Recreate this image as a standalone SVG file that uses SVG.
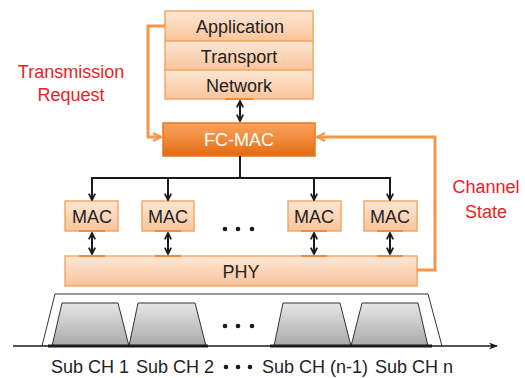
<svg xmlns="http://www.w3.org/2000/svg" width="525" height="378" viewBox="0 0 525 378">
  <defs>
    <linearGradient id="peach" x1="0" y1="0" x2="0" y2="1">
      <stop offset="0" stop-color="#fde7d6"/>
      <stop offset="1" stop-color="#f9c49a"/>
    </linearGradient>
    <linearGradient id="fcmac" x1="0" y1="0" x2="0" y2="1">
      <stop offset="0" stop-color="#f9a35e"/>
      <stop offset="0.5" stop-color="#f08a3a"/>
      <stop offset="1" stop-color="#e06a12"/>
    </linearGradient>
    <linearGradient id="band" x1="0" y1="0" x2="0" y2="1">
      <stop offset="0" stop-color="#e6e6e6"/>
      <stop offset="1" stop-color="#a9a9a9"/>
    </linearGradient>
    <marker id="ahk" viewBox="0 0 10 10" refX="9" refY="5" markerWidth="8" markerHeight="8" orient="auto-start-reverse" markerUnits="userSpaceOnUse">
      <path d="M1,1 L9,5 L1,9" fill="none" stroke="#1a1a1a" stroke-width="2.2"/>
    </marker>
    <marker id="aho" viewBox="0 0 10 10" refX="9" refY="5" markerWidth="10" markerHeight="10" orient="auto" markerUnits="userSpaceOnUse">
      <path d="M1,1 L9,5 L1,9" fill="none" stroke="#f79646" stroke-width="2.2"/>
    </marker>
    <marker id="axis" viewBox="0 0 10 10" refX="9" refY="5" markerWidth="9" markerHeight="9" orient="auto" markerUnits="userSpaceOnUse">
      <path d="M0,1 L10,5 L0,9 L3,5 Z" fill="#1a1a1a"/>
    </marker>
  </defs>
  <style>
    text { font-family: "Liberation Sans", Arial, sans-serif; text-anchor: middle; dominant-baseline: central; }
    .box { fill: url(#peach); stroke: #f5a865; stroke-width: 1.5; }
    .lbl { fill: #222222; font-size: 18px; }
    .red { fill: #ee1c25; font-size: 18px; }
    .wire { fill: none; stroke: #1a1a1a; stroke-width: 2; }
    .fb { fill: none; stroke: #f79646; stroke-width: 3; }
    .tick { stroke: #f28a36; stroke-width: 2; }
    .dot { fill: #1a1a1a; }
    .sub { fill: url(#band); stroke: #333; stroke-width: 1; }
  </style>

  <!-- protocol stack -->
  <g id="application"><rect class="box" x="165" y="11" width="148" height="30"/><text class="lbl" x="240" y="27" font-size="19">Application</text></g>
  <g id="transport"><rect class="box" x="165" y="41" width="148" height="29"/><text class="lbl" x="239" y="57" font-size="19">Transport</text></g>
  <g id="network"><rect class="box" x="165" y="70" width="148" height="29"/><text class="lbl" x="239" y="86" font-size="19">Network</text></g>

  <g id="fc-mac">
    <rect x="163" y="123" width="152" height="33" fill="url(#fcmac)" stroke="#e8761e" stroke-width="1.5"/>
    <text x="239" y="140" font-size="18" fill="#ffffff">FC-MAC</text>
  </g>

  <!-- per-channel MAC entities -->
  <g id="mac1"><rect class="box" x="65" y="201" width="53" height="30"/><text class="lbl" x="92" y="217">MAC</text></g>
  <g id="mac2"><rect class="box" x="142" y="201" width="52" height="30"/><text class="lbl" x="168" y="217">MAC</text></g>
  <g id="mac3"><rect class="box" x="288" y="201" width="53" height="30"/><text class="lbl" x="314" y="217">MAC</text></g>
  <g id="mac4"><rect class="box" x="364" y="201" width="53" height="30"/><text class="lbl" x="390" y="217">MAC</text></g>
  <g id="mac-ellipsis">
    <circle class="dot" cx="225" cy="229" r="2.3"/><circle class="dot" cx="238" cy="229" r="2.3"/><circle class="dot" cx="252" cy="229" r="2.3"/>
  </g>

  <g id="phy"><rect class="box" x="65" y="256" width="352" height="30"/><text class="lbl" x="241" y="272">PHY</text></g>

  <g id="red-labels">
    <text class="red" x="71" y="72">Transmission</text>
    <text class="red" x="71" y="95">Request</text>
    <text class="red" x="486" y="187">Channel</text>
    <text class="red" x="486" y="212">State</text>
  </g>

  <!-- connectors -->
  <g id="connectors">
    <g class="tick">
      <line x1="225" y1="99" x2="253" y2="99"/>
      <line x1="79" y1="231" x2="105" y2="231"/><line x1="79" y1="256" x2="105" y2="256"/>
      <line x1="155" y1="231" x2="181" y2="231"/><line x1="155" y1="256" x2="181" y2="256"/>
      <line x1="301" y1="231" x2="327" y2="231"/><line x1="301" y1="256" x2="327" y2="256"/>
      <line x1="377" y1="231" x2="403" y2="231"/><line x1="377" y1="256" x2="403" y2="256"/>
    </g>
    <line class="wire" x1="240" y1="101" x2="240" y2="121" marker-start="url(#ahk)" marker-end="url(#ahk)"/>
    <path class="wire" d="M240,156 V178"/>
    <path class="wire" d="M92,178 H390"/>
    <line class="wire" x1="92" y1="177" x2="92" y2="200" marker-end="url(#ahk)"/>
    <line class="wire" x1="168" y1="177" x2="168" y2="200" marker-end="url(#ahk)"/>
    <line class="wire" x1="314" y1="177" x2="314" y2="200" marker-end="url(#ahk)"/>
    <line class="wire" x1="390" y1="177" x2="390" y2="200" marker-end="url(#ahk)"/>
    <line class="wire" x1="92" y1="233" x2="92" y2="254" marker-start="url(#ahk)" marker-end="url(#ahk)"/>
    <line class="wire" x1="168" y1="233" x2="168" y2="254" marker-start="url(#ahk)" marker-end="url(#ahk)"/>
    <line class="wire" x1="314" y1="233" x2="314" y2="254" marker-start="url(#ahk)" marker-end="url(#ahk)"/>
    <line class="wire" x1="390" y1="233" x2="390" y2="254" marker-start="url(#ahk)" marker-end="url(#ahk)"/>
    <path class="fb" d="M165,26 H148 V137 H161" marker-end="url(#aho)"/>
    <path class="fb" d="M417,270 H435 V137 H317" marker-end="url(#aho)"/>
  </g>

  <!-- spectrum: channel band with sub-channels -->
  <g id="spectrum">
    <path d="M42,346 L55,294 L428,294 L442,346" fill="none" stroke="#333" stroke-width="1"/>
    <path class="sub" d="M52,346 L62,303 L118,303 L129,346 Z"/>
    <path class="sub" d="M129,346 L138,303 L195,303 L206,346 Z"/>
    <path class="sub" d="M274,346 L283,303 L340,303 L351,346 Z"/>
    <path class="sub" d="M351,346 L362,303 L418,303 L428,346 Z"/>
    <line x1="13" y1="346" x2="497" y2="346" stroke="#1a1a1a" stroke-width="1.5" marker-end="url(#axis)"/>
    <line x1="48" y1="346" x2="208" y2="346" stroke="#1a1a1a" stroke-width="3"/>
    <line x1="270" y1="346" x2="432" y2="346" stroke="#1a1a1a" stroke-width="3"/>
    <circle class="dot" cx="225" cy="326" r="2.3"/><circle class="dot" cx="238" cy="326" r="2.3"/><circle class="dot" cx="252" cy="326" r="2.3"/>
  </g>

  <g id="subchannel-labels">
    <text class="lbl" x="90" y="367" font-size="17.5">Sub CH 1</text>
    <text class="lbl" x="175" y="367" font-size="17.5">Sub CH 2</text>
    <circle class="dot" cx="226" cy="367" r="2.3"/><circle class="dot" cx="238" cy="367" r="2.3"/><circle class="dot" cx="250" cy="367" r="2.3"/>
    <text class="lbl" x="315" y="367" font-size="17.5">Sub CH (n-1)</text>
    <text class="lbl" x="414" y="367" font-size="17.5">Sub CH n</text>
  </g>
</svg>
